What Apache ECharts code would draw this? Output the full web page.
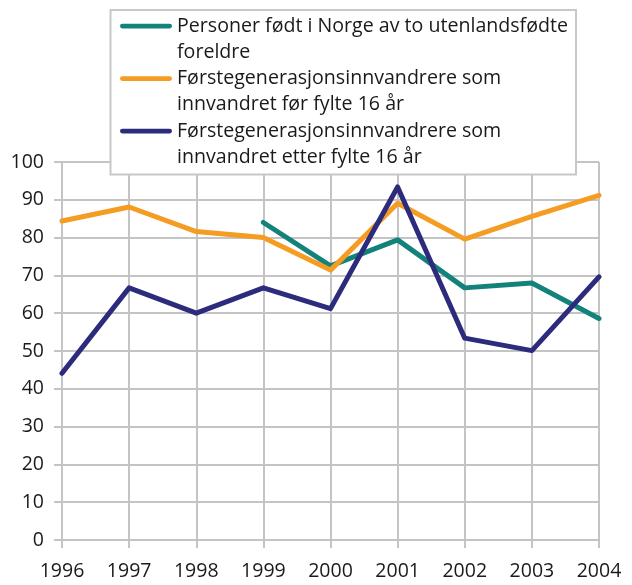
<!DOCTYPE html>
<html>
<head>
<meta charset="utf-8">
<script src="https://cdn.jsdelivr.net/npm/echarts@6/dist/echarts.min.js"></script>
<style>
  html, body { margin: 0; padding: 0; background: #ffffff; }
  #chart { width: 632px; height: 585px; }
</style>
</head>
<body>
<div id="chart"></div>
<script>
// Years on the category axis
const years = ['1996', '1997', '1998', '1999', '2000', '2001', '2002', '2003', '2004'];

// Series names (line breaks as shown in the legend)
const nameNorskfodte = 'Personer født i Norge av to utenlandsfødte\nforeldre';
const nameForUnder16 = 'Førstegenerasjonsinnvandrere som\ninnvandret før fylte 16 år';
const nameEtter16 = 'Førstegenerasjonsinnvandrere som\ninnvandret etter fylte 16 år';

// Values per year (null where there is no observation)
const norskfodte = [null, null, null, 84.0, 72.5, 79.4, 66.7, 68.0, 58.6];
const forUnder16 = [84.4, 88.1, 81.6, 80.0, 71.4, 89.1, 79.6, 85.6, 91.2];
const etter16 = [44.1, 66.7, 60.0, 66.7, 61.2, 93.4, 53.4, 50.1, 69.6];

// Y axis range
const yMin = 0, yMax = 100, yStep = 10;

const colors = ['#12827b', '#f59c22', '#2c2b7c'];
const gridGray = '#c4c4c4';
const textColor = '#1a1a1a';
const fontFamily = '"Open Sans", "Noto Sans", sans-serif';

// Legend icon: a short bar level with the first text line of a two-line item
const legendIcon = 'path://M0,0 M52,52.5 M2.4,10.7 L49.6,10.7 A2.4,2.4 0 0 1 49.6,15.5 L2.4,15.5 A2.4,2.4 0 0 1 2.4,10.7 Z';

const chart = echarts.init(document.getElementById('chart'), null, { renderer: 'canvas' });

function lineSeries(name, data, color) {
  return {
    name: name,
    type: 'line',
    data: data,
    symbol: 'none',
    connectNulls: false,
    lineStyle: { color: color, width: 5, cap: 'round', join: 'round' },
    itemStyle: { color: color },
    z: 3
  };
}

chart.setOption({
  animation: false,
  color: colors,
  grid: { left: 62, right: 33, top: 162, bottom: 45, containLabel: false },
  xAxis: {
    type: 'category',
    data: years,
    boundaryGap: false,
    axisLine: { show: true, lineStyle: { color: gridGray, width: 2 } },
    axisTick: { show: true, length: 8, lineStyle: { color: gridGray, width: 2 } },
    axisLabel: { color: textColor, fontSize: 19.5, fontFamily: fontFamily, margin: 21 },
    splitLine: { show: true, lineStyle: { color: gridGray, width: 2 } }
  },
  yAxis: {
    type: 'value',
    min: yMin,
    max: yMax,
    interval: yStep,
    axisLine: { show: true, lineStyle: { color: gridGray, width: 2 } },
    axisTick: { show: true, length: 8, lineStyle: { color: gridGray, width: 2 } },
    axisLabel: { color: textColor, fontSize: 19.5, fontFamily: fontFamily, margin: 18 },
    splitLine: { show: true, lineStyle: { color: gridGray, width: 2 } }
  },
  legend: {
    orient: 'vertical',
    left: 115,
    top: 8,
    z: 20,
    icon: legendIcon,
    itemWidth: 52,
    itemHeight: 52.5,
    itemGap: 0,
    selectedMode: false,
    data: [nameNorskfodte, nameForUnder16, nameEtter16],
    textStyle: { color: textColor, fontSize: 19.6, fontFamily: fontFamily, lineHeight: 26.25 }
  },
  graphic: [{
    type: 'rect',
    z: 10,
    shape: { x: 110.5, y: 10, width: 465.5, height: 164.5 },
    style: { fill: '#ffffff', stroke: '#c8c8c8', lineWidth: 2 }
  }],
  series: [
    lineSeries(nameNorskfodte, norskfodte, colors[0]),
    lineSeries(nameForUnder16, forUnder16, colors[1]),
    lineSeries(nameEtter16, etter16, colors[2])
  ]
});
</script>
</body>
</html>
